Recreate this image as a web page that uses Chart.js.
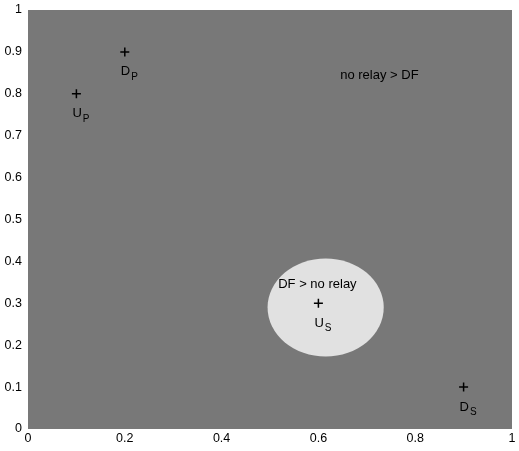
<!DOCTYPE html>
<html>
<head>
<meta charset="utf-8">
<script src="https://cdn.jsdelivr.net/npm/chart.js@4"></script>
<style>
  html, body { margin: 0; padding: 0; background: #fff; }
  #wrap { width: 519px; height: 451px; }
</style>
</head>
<body>
<div id="wrap"><canvas id="chart" width="519" height="451"></canvas></div>
<script>
// node positions
const nodeX = [0.1, 0.2, 0.6, 0.9];
const nodeY = [0.8, 0.9, 0.3, 0.1];
const nodeName = ['U', 'D', 'U', 'D'];
const nodeSub = ['P', 'P', 'S', 'S'];

// region where DF beats no relay (ellipse)
const regionCenter = [0.615, 0.29];
const regionRadius = [0.12, 0.117];

// region labels
const regionText = ['no relay > DF', 'DF > no relay'];
const regionTextX = [0.645, 0.517];
const regionTextY = [0.845, 0.344];

const xTicks = [0, 0.2, 0.4, 0.6, 0.8, 1];
const yTicks = [0, 0.1, 0.2, 0.3, 0.4, 0.5, 0.6, 0.7, 0.8, 0.9, 1];

const FONT = '"Liberation Sans", Arial, Helvetica, sans-serif';

const regionPlugin = {
    id: 'region',
    beforeDatasetsDraw(chart) {
        const ctx = chart.ctx;
        const a = chart.chartArea;
        const xs = chart.scales.x, ys = chart.scales.y;
        ctx.save();
        ctx.fillStyle = '#787878';
        ctx.fillRect(a.left, a.top, a.right - a.left, a.bottom - a.top);

        const cx = xs.getPixelForValue(regionCenter[0]);
        const cy = ys.getPixelForValue(regionCenter[1]);
        const rx = xs.getPixelForValue(regionCenter[0] + regionRadius[0]) - cx;
        const ry = cy - ys.getPixelForValue(regionCenter[1] + regionRadius[1]);
        ctx.beginPath();
        ctx.ellipse(cx, cy, rx, ry, 0, 0, Math.PI * 2);
        ctx.fillStyle = '#e1e1e1';
        ctx.fill();
        ctx.restore();
    },
    afterDatasetsDraw(chart) {
        const ctx = chart.ctx;
        const xs = chart.scales.x, ys = chart.scales.y;
        ctx.save();
        ctx.fillStyle = '#000';
        ctx.textBaseline = 'middle';
        ctx.textAlign = 'left';
        for (let i = 0; i < nodeX.length; i++) {
            const px = xs.getPixelForValue(nodeX[i]) - 4;
            const py = ys.getPixelForValue(nodeY[i]) + 20;
            ctx.font = '13px ' + FONT;
            ctx.fillText(nodeName[i], px, py);
            const w = ctx.measureText(nodeName[i]).width;
            ctx.font = '10px ' + FONT;
            ctx.fillText(nodeSub[i], px + w + 1, py + 5);
        }
        ctx.font = '13px ' + FONT;
        for (let i = 0; i < regionText.length; i++) {
            ctx.fillText(regionText[i], xs.getPixelForValue(regionTextX[i]), ys.getPixelForValue(regionTextY[i]));
        }
        ctx.restore();
    }
};

const ctx = document.getElementById('chart').getContext('2d');

const fmt = v => String(Math.round(v * 10) / 10);

const myChart = new Chart(ctx, {
    type: 'scatter',
    data: {
        datasets: [{
            data: nodeX.map((x, i) => ({ x: x, y: nodeY[i] })),
            pointStyle: 'cross',
            pointRadius: 4.5,
            borderColor: '#000',
            backgroundColor: '#000',
            borderWidth: 1.5,
            pointHoverRadius: 4.5
        }]
    },
    options: {
        responsive: false,
        animation: false,
        layout: { padding: { top: 10, right: 7, left: 0, bottom: 0 } },
        scales: {
            x: {
                type: 'linear',
                min: 0, max: 1,
                afterFit: s => { s.height = 22; s.paddingLeft = 0; s.paddingRight = 0; },
                afterBuildTicks: s => { s.ticks = xTicks.map(v => ({ value: v })); },
                grid: { display: false, drawTicks: false },
                border: { display: false },
                ticks: { color: '#000', padding: 2, maxRotation: 0, callback: fmt, font: { size: 12.5, family: FONT } }
            },
            y: {
                type: 'linear',
                min: 0, max: 1,
                afterFit: s => { s.width = 28; s.paddingTop = 0; s.paddingBottom = 0; },
                afterBuildTicks: s => { s.ticks = yTicks.map(v => ({ value: v })); },
                grid: { display: false, drawTicks: false },
                border: { display: false },
                ticks: { color: '#000', padding: 6, callback: fmt, font: { size: 12.5, family: FONT } }
            }
        },
        plugins: {
            legend: { display: false },
            tooltip: { enabled: false }
        }
    },
    plugins: [regionPlugin]
});
</script>
</body>
</html>
